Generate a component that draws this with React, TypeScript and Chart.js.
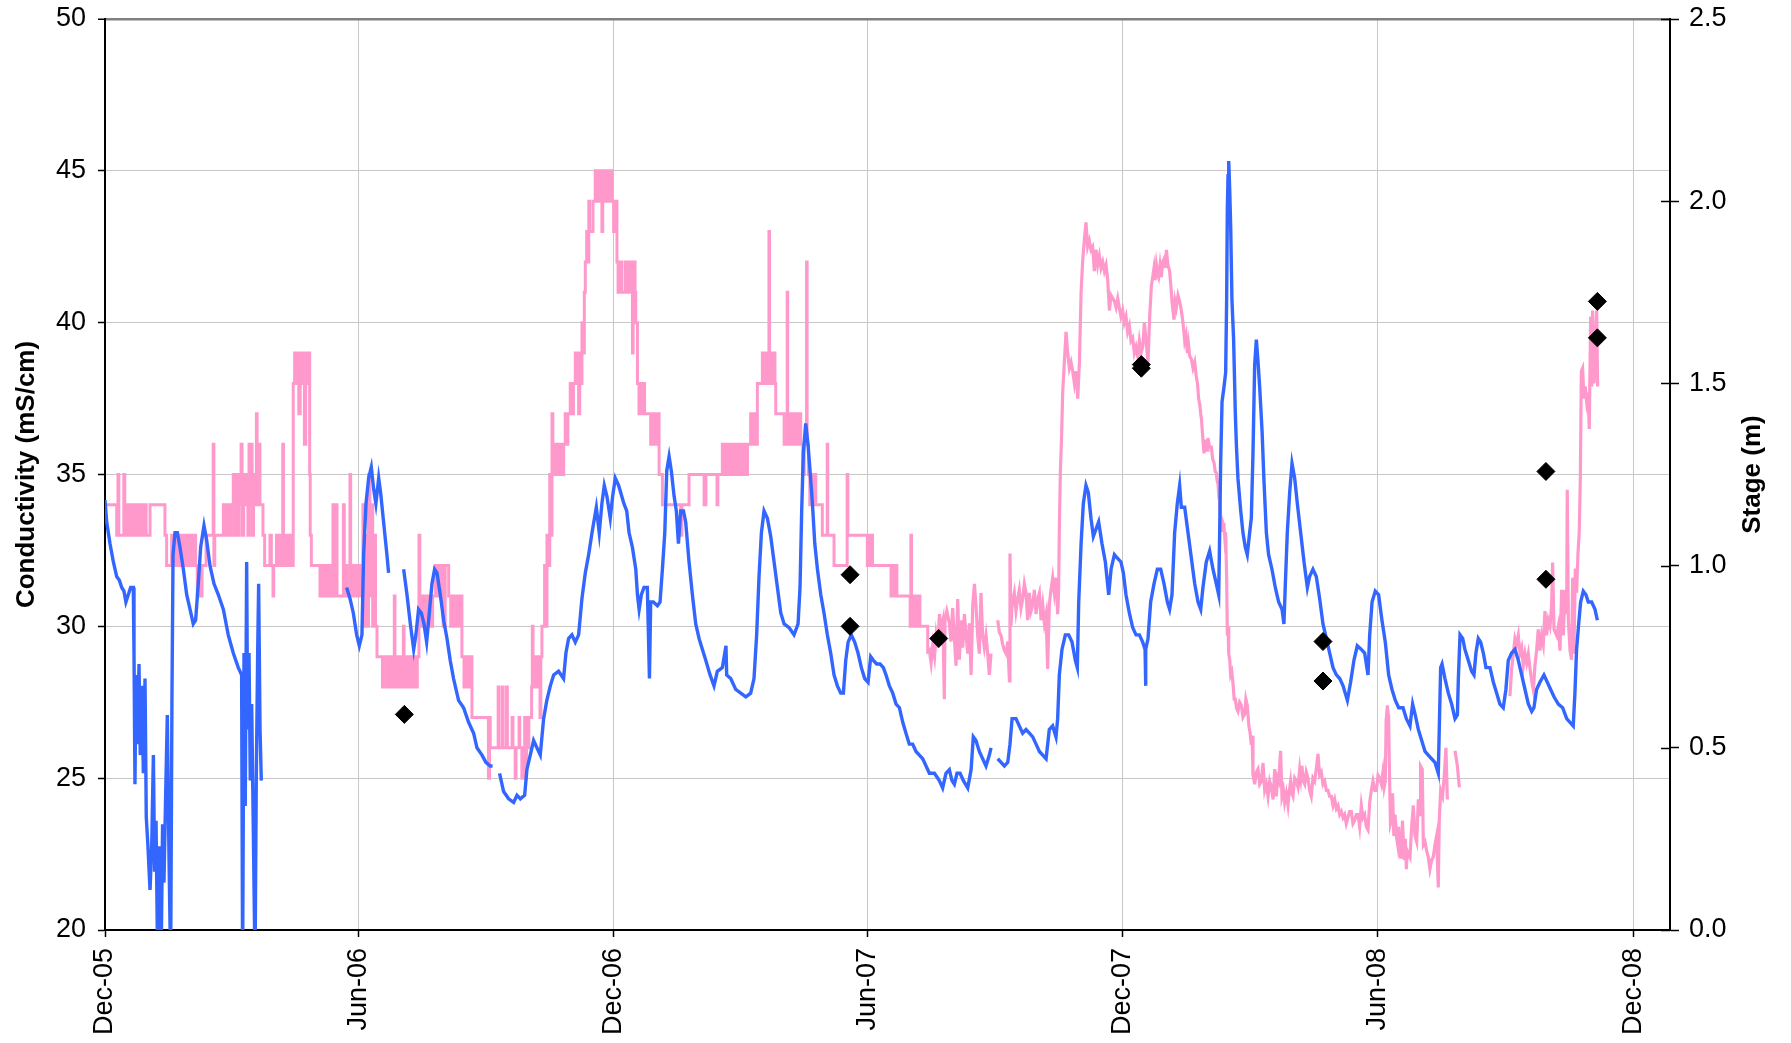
import { useEffect, useRef } from 'react';
import { Chart, registerables } from 'chart.js';

Chart.register(...registerables);

// x values are days since 1 Dec 2005
const tickDays = [0, 182, 365, 547, 730, 913, 1096];
const tickLabels = ['Dec-05', 'Jun-06', 'Dec-06', 'Jun-07', 'Dec-07', 'Jun-08', 'Dec-08'];

// logger conductivity (mS/cm): stepwise readings until ~day 590, then continuous
const conductivityLogger: [number, number | null][] = [
  [0,34],[8.4,33],[9.3,35],[9.9,33],[13.5,35],[14.2,34],[15,33],[16,34],[17,33],[18,34],[19,33],[20,34],[21,33],[22,34],[23,33],[24,34],[25,33],[26,34],[27,33],[28,34],[29.5,33],[32.3,34],[43,33],[44.2,32],[47.8,33],[48.8,32],[50,33],[51,32],[52,33],[53,32],[54,33],[55,32],[56,33],[57,32],[58,33],[59,32],[60,33],[61,32],[62,33],[63,32],[64,33],[65,32],[66.2,31],[66.8,32],[69,31],[69.6,32],[72.5,33],[77.6,36],[78.1,32],[78.7,33],
  [84.9,34],[85.8,33],[86.8,34],[87.8,33],[88.8,34],[89.8,33],[90.8,34],[92,35],[93,33],[94,35],[95,33],[96,35],[97,34],[97.6,36],[98.3,33],[99.5,35],[100.5,34],[101.5,35],[102.5,33],[103.3,36],[104,34],[104.8,36],[105.5,33],[106.5,35],[107.5,34],[108.6,37],[109.1,34],[110.5,36],[111.1,34],[113.3,33],[114.5,32],[118.3,33],[119.3,32],[120.5,31],[121,32],[123,33],[124,32],[125,33],[126,32],[127.5,36],[128,32],[129,33],[130,32],[131,33],[132,32],[133,33],[134,32],
  [135,38],[136,39],[137,38],[138,39],[139,37],[140,39],[141,38],[142,39],[143,36],[144,39],[145,38],[146,39],[146.8,35],[147.2,33],[148,32],[154.2,31],[155.2,32],[156.2,31],[157.2,32],[158.2,31],[159.2,32],[160.2,31],[161.2,32],[162.2,31],[163.5,34],[164.5,31],[165.6,34],[166.4,31],[171,34],[171.6,31],[172.5,32],[173.5,31],[175.7,35],[176.2,31],[177,32],[178,31],[179,32],[180,31],[181,32],[182,31],[183,32],
  [184.3,31],[185,34],[186,30],[187,33],[188,30],[189,35],[190,31],[191,34],[192,30],[193,33],[194,30],[195.1,29],[199,28],[199.8,29],[202,28],[203,29],[204.6,28],[205.5,29],[206.5,28],[207.5,31],[208,28],[209,29],[210,28],[211,29],[212,28],[213,29],[214,30],[214.5,28],[216,29],[217,28],[218,29],[219,28],[220,29],[221,28],[222,29],[223,28],[224,29],[225.2,33],[225.8,30],
  [226.5,31],[228,30],[229,31],[230,30],[231,31],[232,30],[233,31],[234,30],[235,31],[236.9,32],[238,31],[239,32],[240,31],[241,32],[242.5,30],[244,32],[246.5,31],[248,30],[249,31],[250,30],[251,31],[252,30],[253,31],[254,30],[255,31],[256,29],[257.5,28],[258.5,29],[259.5,28],[260.5,29],[261.5,28],[262.5,29],[263.2,27],[275,25],[275.8,27],[276.3,26],
  [282,28],[282.6,26],[285,28],[285.6,26],[288,28],[288.6,26],[292,27],[292.6,26],[294.2,25],[294.8,26],[297,27],[297.5,26],[299,25],[299.6,26],[301,27],[301.6,25],[302.3,27],[303,26],[304,27],[306,28],[306.5,30],[307,28],[308,29],[309,28],[310,29],[311,28],[312,27],[312.6,29],[313.4,30],[315.3,32],[316,30],[317,33],[318,32],[319,35],[320,33],
  [320.6,37],[321.2,36],[322,35],[323,36],[324,35],[325,36],[326,35],[327,36],[328,35],[329,36],[330.1,37],[331,36],[332,37],[333.7,38],[335,37],[336,38],[337.3,39],[338,38],[339,39],[339.7,37],[340.5,39],[341.5,38],[342.1,40],[343,39],[343.8,41],[344.5,42],[345.5,43],[346.3,42],[347,44],[347.6,43],[349,43],[350,44],[351.6,45],[352.5,44],[353.5,45],[354.5,44],[355.5,45],[356.4,43],[357,45],[358,44],[359,45],[360,44],[361,45],[362,44],[363,45],[363.6,44],[364.8,43],[365.5,44],[367.2,42],[368,41],[369,42],[370.5,41],
  [372.3,41],[373,42],[374,41],[375,42],[376,41],[377,42],[378.3,39],[378.8,41],[379.5,42],[380.2,41],[380.7,40],[381.9,38],[383,37],[384,38],[385,37],[386,38],[387,37],[391.4,36],[392.3,37],[393.3,36],[394.3,37],[395.3,36],[396.3,37],[397.4,35],[399.8,34],[412.9,33],[413.8,34],[418.9,35],[429.7,34],[431,35],[439,34],[439.6,35],
  [442.8,36],[444,35],[445,36],[446,35],[447,36],[448,35],[449,36],[450,35],[451,36],[452,35],[453,36],[454,35],[455,36],[456,35],[457,36],[458,35],[459,36],[460,35],[460.8,36],[463.1,37],[464,36],[465,37],[466,36],[467.9,38],[471.5,39],[472.5,38],[473.5,39],[474.5,38],[475.5,39],[476.2,43],[476.6,38],[477.5,39],[478.5,38],[479.5,39],[480.5,38],[481.1,37],[487.1,36],[489.3,41],[489.7,36],[491.8,37],[493,36],[494,37],[495,36],[496,37],[497,36],[498,37],[499,36],[500.5,35],[501.5,36],[503.2,42],[503.6,36],[504.5,35],
  [505.5,34],[506.5,35],[507.5,34],[508.5,35],[509.8,34],[514.5,33],[518,36],[518.4,33],[522.9,32],[532.3,35],[532.8,33],[546.8,32],[547.5,33],[548.5,32],[549.5,33],[550.5,32],[563.8,31],[565,32],[566,31],[567,32],[568,31],[577.5,30],[578,33],[578.5,30],[580.5,31],[581.3,30],[582.1,31],[582.9,30],[583.7,31],[584.5,30],
  [590.1,29.1],[591.3,29.2],[592.5,28.8],[593.7,29.4],[595,29.0],[596.1,29.7],[597.3,29.3],[598.5,30.4],[599.6,29.9],[601.0,30.2],[602.0,27.6],[602.5,30.2],[603.8,30.5],[605.6,30.1],[606.8,29.5],[608.0,30.6],[609.2,29.6],[610.4,28.7],[611.6,30.9],[612.8,28.9],[614.0,30.2],[615.2,29.3],[616.4,30.4],[617.6,29.7],[618.8,29.1],[620.0,30.1],[621.2,28.4],[622.4,30.7],[623.6,31.4],[624.7,30.7],[625.9,29.7],[627.1,29.1],[628.3,31.1],[629.5,29.7],[630.7,29.3],[631.9,29.7],[633.1,29.1],[634.3,28.4],[635.5,29.1],[638,null],
  [640.3,30.2],[641.5,29.8],[642.7,29.7],[643.9,29.4],[645.1,29.2],[646.3,29.1],[647.5,29.5],[648.7,28.2],[649.1,32.4],[649.8,30.0],[650.6,30.7],[652.2,31.1],[653.4,30.5],[654.6,30.9],[655.8,31.2],[657,30.6],[658.2,30.9],[659.4,31.4],[660.6,31.1],[661.8,30.2],[663.0,31.1],[664.2,30.5],[665.4,30.7],[666.6,31.2],[667.8,30.4],[669,30.9],[670.2,31.1],[671.4,30.2],[672.6,30.7],[673.8,30.1],[675.0,30.4],[676.1,28.6],[677.3,30.7],[678.5,31.2],[679.7,31.6],[680.9,31.1],[682.1,31.6],[683.3,30.4],[684.0,31.2],
  [684.5,33.2],[685.2,35.0],[686.2,36.4],[686.9,37.7],[688.1,38.7],[689.3,39.7],[690.5,39.0],[691.7,38.5],[692.9,38.7],[694.1,38.4],[695.3,38.0],[696.5,38.4],[697.7,37.5],[698.9,38.7],[700.1,41.0],[701.2,42.0],[702.4,42.7],[703.6,43.3],[704.8,42.5],[706.0,42.7],[707.2,42.4],[708.4,42.5],[709.6,41.7],[710.8,42.4],[712,41.9],[713.2,42.2],[714.4,41.8],[715.6,42.0],[716.8,41.7],[718.0,41.9],[719.2,41.4],[720.4,40.4],[721.6,40.9],[722.8,40.8],[724.0,40.7],[725.2,40.5],[726.4,40.8],[727.5,40.5],[728.7,40.2],[729.9,40.4],[731.1,40.0],[732.3,40.2],[733.5,39.7],[734.7,39.9],[735.9,39.4],[737.1,39.5],[738.3,39.0],[739.5,39.2],[740.7,38.9],[741.9,39.4],[743.1,39.0],[744.3,39.2],[745.5,40.0],[746.7,39.4],[748.1,38.7],
  [749.3,40.2],[750.5,41.2],[751.5,41.5],[752.4,41.8],[753.2,41.4],[754.1,41.9],[755.0,41.6],[755.7,41.5],[756.7,41.9],[757.7,41.5],[758.6,42.0],[759.6,42.1],[760.5,41.8],[761.3,42.4],[762.4,41.9],[763.6,41.7],[764.5,41.2],[765.3,40.7],[766.0,40.4],[766.7,40.1],[767.5,40.7],[768.4,40.5],[769.6,40.9],[770.8,40.7],[772.0,40.4],[773.2,40.0],[774.4,39.4],[775.4,39.6],[776.3,39.0],[777.1,39.3],[778.0,38.9],[779.2,38.8],[780.4,38.5],[781.6,38.7],[782.8,38.2],[783.6,38.0],[784.4,37.5],[785.2,37.3],[785.9,37.0],[786.5,36.8],[787.1,36.4],[787.7,36.0],[788.3,35.7],[789.1,36.1],[789.9,36.1],[790.5,35.8],[791.1,36.2],[792.3,35.9],[793.5,35.9],[794.5,35.5],[795.4,35.4],[796.3,35.1],[797.1,35.05],[797.7,34.8],[798.3,34.7],[798.9,34.3],[799.5,34.1],[800.3,33.6],[801.2,33.1],[801.9,33.4],[802.6,33.3],[803.2,32.9],[803.8,33.1],
  [804.5,31.6],[805.0,29.7],[805.5,30.0],[806.0,29.1],[806.7,28.9],[807.4,28.4],[808.2,28.5],[809.1,28.1],[809.9,27.6],[810.7,27.6],[811.6,27.3],[812.6,27.2],[813.8,27.5],[815.0,27.4],[816.2,27.0],[817.4,27.1],[818.3,27.6],[819.3,27.4],[820.5,26.7],[821.3,26.5],[822.2,26.1],[822.8,26.4],[823.4,25.1],[824.2,24.9],[824.6,24.8],[825.8,25.2],[827.0,25.3],[828.2,24.8],[829.4,24.9],[830.6,25.5],[831.8,24.6],[833.0,24.8],[834.2,24.4],[835.4,24.9],[836.6,24.7],[837.8,24.3],[839.0,25.3],[840.1,24.4],[841.0,25.0],[841.8,24.9],[843.2,25.9],[844.2,24.4],[845.2,24.6],[846.1,24.2],[847.3,24.5],[848.5,24.1],[849.5,24.6],[850.4,24.9],[851.3,24.5],[852.1,24.4],[853.3,25.0],[854.5,24.9],[855.7,24.7],[856.9,25.3],[857.7,25.0],[858.5,25.4],[859.5,24.9],[860.5,24.8],[861.6,25.2],[862.8,25.0],[864.0,24.6],[865.2,24.4],[866.4,25.0],[867.6,24.9],[868.8,25.3],[870.0,25.8],[871.2,25.1],[872.4,25.2],[873.6,24.8],[874.8,24.9],
  [876.0,24.6],[877.2,24.6],[878.4,24.4],[879.6,24.4],[880.8,24.1],[882.0,24.3],[883.2,24.0],[884.4,24.1],[885.6,23.8],[886.8,23.9],[888.0,23.7],[889.1,23.8],[890.3,23.5],[891.5,23.7],[892.7,23.9],[893.9,23.9],[895.1,23.5],[896.3,23.6],[897.5,23.8],[898.7,23.8],[899.9,23.4],[901.1,24.1],[902.3,23.7],[903.5,23.8],[904.7,23.4],[905.9,23.3],[907.1,24.2],[908.3,24.6],[909.5,24.9],[910.7,24.6],[911.9,24.6],[913.1,25.1],[914.3,25.0],[915.5,24.8],[916.6,25.2],[917.5,24.7],[918.3,24.9],[918.9,26.9],[919.8,27.4],[920.3,27.1],[920.7,26.9],[921.4,24.9],[922.0,23.5],[922.6,23.6],[923.5,24.5],[924.4,23.1],[925.3,23.8],[926.2,23.1],[927.2,22.8],[927.9,23.4],[928.6,22.5],[929.3,22.4],[929.9,22.4],[930.6,23.6],[931.0,23.2],[932.0,22.3],[932.7,23.0],[933.4,22.0],[934.1,22.6],[935.0,22.5],[936.0,22.4],
  [937.2,23.4],[938.4,24.1],[939.6,23.1],[940.8,22.9],[942.0,24.3],[943.2,23.8],[943.6,25.4],[944.8,25.3],[945.6,22.8],[946.8,22.9],[948.0,22.6],[949.1,22.4],[950.3,22.0],[951.5,22.3],[952.7,22.4],[953.9,22.8],[955.1,23.1],[956.3,21.4],[957.0,23.6],[958.0,24.6],[959.4,24.4],[960.6,25.1],[961.8,26.0],[962.8,24.3],[965,null],[968.3,25.9],[970.0,25.4],[971.4,24.7],[990,null],
  [1007.7,27.7],[1008.9,28.6],[1010.1,29.1],[1011.3,29.6],[1012.5,29.4],[1013.7,29.7],[1014.9,29.1],[1016.1,29.3],[1017.3,28.7],[1018.5,29.1],[1019.7,28.8],[1020.9,29.1],[1022.1,28.6],[1023.3,28.2],[1024.5,27.9],[1025.6,28.7],[1026.8,29.2],[1028.0,29.9],[1029.2,29.2],[1030.4,29.7],[1031.6,29.4],[1032.8,30.5],[1034.0,29.7],[1035.2,30.2],[1036.4,30.0],[1037.6,30.7],[1038.3,32.1],[1039.3,29.9],[1041.2,29.7],[1042.4,30.0],[1043.6,29.2],[1044.8,31.2],[1046.0,29.7],[1047.2,31.2],[1048.4,30.4],[1048.8,34.5],[1049.6,30.2],[1050.8,29.2],[1051.9,28.9],[1052.7,31.6],[1053.6,29.1],[1054.6,31.9],[1055.5,31.1],[1056.5,32.4],[1057.4,33.1],[1058.2,34.9],[1058.9,38.4],[1059.8,38.5],[1060.8,37.5],[1061.7,37.9],[1062.7,37.4],[1063.7,37.7],[1064.6,36.5],[1065.6,40.2],[1066.3,37.9],[1067.0,40.4],[1068.0,38.0],[1068.9,39.0],[1069.9,40.4],[1070.6,37.9],
];
const STEPPED_UNTIL_DAY = 590.1;

// logger stage (m)
const stageLogger: [number, number | null][] = [
  [0,1.18],[1.2,1.12],[3.6,1.06],[6.0,1.01],[8.4,0.97],[10.3,0.96],[12.0,0.94],[13.6,0.93],[15.0,0.90],[16.7,0.92],[18.4,0.94],[20.3,0.94],
  [20.8,0.76],[21.5,0.40],[22.2,0.70],[23.2,0.51],[24.4,0.73],[25.3,0.48],[26.5,0.67],[27.5,0.43],[28.7,0.69],[29.6,0.31],[30.8,0.23],[32.3,0.11],[33.5,0.23],[34.7,0.48],[35.6,0.16],[36.6,0.30],[37.8,-0.1],[39.0,0.23],[40.2,-0.1],[41.3,0.29],[42.3,0.13],[43.5,0.37],[44.7,0.59],[45.9,0.20],[47.1,-0.1],[48.0,0.62],[48.8,1.03],
  [50.2,1.09],[51.9,1.09],[53.8,1.05],[56.2,0.99],[58.6,0.92],[61.0,0.88],[63.3,0.84],[65.0,0.85],[66.9,0.95],[68.6,1.05],[71.0,1.11],[72.9,1.07],[75.3,1.00],[78.2,0.95],[81.3,0.92],[84.9,0.88],[88.4,0.81],[92.0,0.76],[95.6,0.72],[98.0,0.70],
  [98.7,-0.1],[99.7,0.76],[100.6,0.34],[101.6,1.01],[102.3,0.55],[103.3,0.76],[104.2,0.41],[105.2,0.62],[106.4,0.27],[107.6,-0.1],[108.5,0.41],[109.5,0.76],[110.2,0.95],[111.2,0.55],[112.1,0.41],[140,null],
  [173.3,0.94],[175.7,0.91],[178.1,0.87],[180.5,0.81],[182.4,0.78],[184.3,0.81],[185.5,1.03],[187.2,1.17],[189.1,1.24],[191.0,1.27],[192.7,1.21],[194.3,1.17],[196.3,1.24],[197.7,1.20],[199.8,1.12],[202.2,1.03],[203.4,0.98],[208,null],
  [214.2,0.99],[216.6,0.92],[219.0,0.84],[221.4,0.77],[223.0,0.81],[224.9,0.88],[226.9,0.87],[228.8,0.84],[230.7,0.79],[232.6,0.87],[234.5,0.95],[236.4,0.99],[238.1,0.98],[240.5,0.92],[242.9,0.85],[245.3,0.80],[247.6,0.74],[250.0,0.69],[253.6,0.63],[257.2,0.61],[260.8,0.57],[264.4,0.54],[266.8,0.50],[270.4,0.48],[273.2,0.46],[276.3,0.45],[278.0,0.45],[280,null],
  [283.0,0.43],[285.9,0.38],[289.5,0.36],[293.1,0.35],[295.5,0.37],[297.9,0.36],[301.0,0.37],[302.6,0.44],[305.0,0.48],[307.4,0.52],[309.8,0.50],[312.2,0.48],[314.6,0.58],[316.9,0.63],[319.4,0.67],[321.8,0.70],[325.3,0.71],[328.9,0.69],[330.6,0.76],[332.5,0.80],[334.9,0.81],[337.3,0.79],[339.7,0.81],[342.1,0.91],[344.5,0.98],[346.9,1.03],[349.3,1.09],[352.4,1.16],[354.5,1.09],[356.4,1.17],[358.1,1.22],[360.0,1.19],[362.4,1.13],[364.1,1.19],[366.0,1.24],[368.4,1.22],[372.2,1.17],
  [374.2,1.15],[375.9,1.09],[378.3,1.05],[380.7,0.99],[381.9,0.92],[383.1,0.88],[384.7,0.92],[386.6,0.94],[389.0,0.94],[390.5,0.69],[391.4,0.90],[393.3,0.90],[396.2,0.89],[398.1,0.90],[399.8,0.99],[401.5,1.09],[402.9,1.26],[404.6,1.30],[406.2,1.26],[408.2,1.19],[409.8,1.15],[411.3,1.06],[412.9,1.15],[414.9,1.15],[416.5,1.12],[418.9,1.01],[421.3,0.92],[423.7,0.84],[426.1,0.80],[428.5,0.77],[430.9,0.74],[434.0,0.70],[436.8,0.67],[439.2,0.71],[442.8,0.72],[445.4,0.78],[445.9,0.70],[448.8,0.69],[452.4,0.66],[456.0,0.65],[459.6,0.64],[463.1,0.65],[465.5,0.69],[467.4,0.81],[469.1,0.97],[470.8,1.09],[472.7,1.15],[475.1,1.13],[477.5,1.08],[479.9,1.01],[482.3,0.94],[484.7,0.87],[487.1,0.84],[490.6,0.83],[494.2,0.81],[497.1,0.84],[498.5,0.94],
  [499.7,1.15],[500.9,1.31],[502.6,1.39],[504.3,1.33],[505.7,1.26],[507.4,1.17],[509.1,1.06],[511.0,0.99],[513.4,0.92],[515.7,0.87],[518.1,0.81],[520.5,0.76],[522.9,0.70],[525.3,0.67],[527.7,0.65],[529.6,0.65],[531.3,0.74],[533.0,0.79],[535.3,0.81],[537.7,0.79],[540.1,0.76],[542.5,0.72],[544.9,0.69],[547.3,0.68],[549.2,0.75],[551.1,0.74],[553.5,0.73],[555.9,0.73],[558.3,0.72],[560.2,0.70],
  [562.6,0.67],[565.0,0.65],[567.4,0.62],[569.8,0.61],[572.2,0.57],[574.5,0.54],[576.9,0.51],[579.3,0.51],[581.7,0.49],[584.1,0.48],[586.5,0.47],[588.9,0.45],[591.3,0.43],[594.9,0.43],[598.4,0.41],[600.8,0.39],[603.2,0.43],[605.6,0.44],[607.5,0.41],[609.2,0.40],[611.1,0.43],[613.3,0.43],[615.7,0.41],[618.8,0.39],[621.2,0.44],[622.8,0.53],[624.7,0.52],[627.1,0.49],[629.5,0.47],[631.9,0.45],[634.3,0.48],[635.5,0.50],[638,null],
  [640.3,0.47],[642.7,0.46],[645.1,0.45],[647.5,0.46],[649.1,0.51],[650.6,0.58],[653.4,0.58],[655.8,0.56],[658.2,0.54],[660.6,0.55],[663.0,0.54],[665.4,0.53],[667.8,0.51],[670.2,0.49],[672.6,0.48],[675.0,0.47],[677.3,0.55],[679.7,0.56],[682.1,0.53],[683.3,0.58],[684.5,0.70],[686.4,0.77],[688.8,0.81],[691.2,0.81],[693.6,0.79],[696.0,0.74],[697.4,0.72],[698.4,0.90],[700.1,1.06],[701.7,1.17],[703.6,1.22],[705.3,1.20],[707.2,1.13],[708.9,1.08],[710.8,1.10],[712.7,1.12],[715.1,1.06],[717.5,1.01],[719.9,0.92],[721.6,0.99],[724.0,1.03],[726.3,1.02],[728.7,1.01],[730.4,0.98],[732.3,0.92],[734.7,0.87],[737.1,0.83],[739.5,0.81],[741.9,0.81],[744.3,0.79],[746.0,0.77],[746.3,0.67],[746.6,0.77],[748.1,0.80],
  [750.0,0.90],[752.4,0.95],[754.8,0.99],[757.2,0.99],[759.6,0.95],[762.0,0.90],[763.6,0.88],[765.3,0.92],[767.2,1.09],[769.1,1.17],[770.8,1.22],[772.0,1.16],[774.4,1.16],[776.8,1.09],[779.2,1.02],[781.6,0.95],[784.0,0.90],[785.9,0.88],[787.5,0.94],[789.9,1.01],[792.3,1.04],[794.7,0.99],[797.1,0.95],[798.8,0.92],[799.5,1.09],[800.2,1.28],[801.2,1.45],[802.6,1.49],[803.8,1.53],[804.5,1.73],[805.0,1.98],[805.5,2.07],[806.0,2.11],[806.7,2.03],[807.4,1.93],[808.3,1.73],[809.5,1.62],[810.7,1.42],[811.5,1.33],[812.6,1.24],[814.6,1.15],[816.2,1.09],[817.9,1.05],[819.3,1.03],[821.0,1.09],[822.2,1.13],[823.4,1.31],[824.6,1.55],[825.8,1.62],[827.0,1.56],[828.2,1.49],[829.9,1.37],[831.3,1.23],[833.0,1.09],[834.6,1.03],[837.0,0.99],[839.4,0.94],[841.8,0.90],[844.2,0.88],[845.6,0.84],
  [846.6,0.95],[848.0,1.09],[849.7,1.20],[851.4,1.28],[853.3,1.24],[855.2,1.17],[857.6,1.09],[860.0,1.01],[862.4,0.94],[864.0,0.97],[866.4,0.99],[868.8,0.97],[871.2,0.91],[873.6,0.84],[876.0,0.80],[878.4,0.76],[880.8,0.72],[883.2,0.70],[885.6,0.69],[888.0,0.67],[891.1,0.63],[893.4,0.68],[895.8,0.74],[898.2,0.78],[901.1,0.77],[903.5,0.76],[905.9,0.70],[907.1,0.81],[908.8,0.90],[911.1,0.93],[913.5,0.92],[915.9,0.85],[918.3,0.79],[920.7,0.70],[923.1,0.66],[925.5,0.63],[927.9,0.61],[931.0,0.61],[933.4,0.58],[936.0,0.56],
  [937.9,0.62],[939.8,0.59],[942.0,0.55],[944.4,0.52],[946.8,0.49],[949.1,0.48],[951.5,0.47],[953.9,0.46],[956.3,0.43],[957.0,0.55],[958.0,0.72],[959.0,0.73],[961.1,0.69],[963.5,0.65],[965.9,0.62],[968.3,0.58],[970.0,0.59],[970.7,0.69],[971.9,0.81],[973.8,0.80],[975.4,0.77],[977.8,0.74],[980.2,0.71],[981.9,0.70],[983.3,0.76],[985.0,0.80],[986.7,0.79],[988.6,0.76],[990.5,0.72],[993.4,0.72],[995.8,0.68],[998.2,0.65],[1000.5,0.62],[1002.9,0.61],[1004.8,0.66],[1006.5,0.74],[1008.9,0.76],[1011.3,0.77],[1013.7,0.74],[1016.1,0.70],[1018.5,0.66],[1020.9,0.62],[1023.3,0.60],[1024.9,0.61],[1026.8,0.66],[1029.2,0.68],[1032.1,0.70],[1034.5,0.68],[1036.9,0.66],[1039.3,0.64],[1042.4,0.62],[1045.5,0.61],[1048.4,0.58],[1050.8,0.57],[1053.1,0.56],[1054.3,0.65],[1055.5,0.77],[1057.0,0.84],[1058.4,0.90],[1060.3,0.93],[1062.2,0.92],[1063.9,0.90],[1066.3,0.90],[1068.7,0.88],[1070.4,0.85],
];

// manual conductivity samples (mS/cm)
const conductivitySamples: [number, number][] = [
  [214.7,27.1],[534.4,31.7],[534.4,30.0],[598.0,29.6],[743.3,38.62],[743.3,38.5],[873.6,29.5],[873.6,28.2],[1033.5,35.1],[1033.5,31.55],[1070.4,40.7],[1070.4,39.5],
];

const FONT = "'Liberation Sans', Arial, sans-serif";

export default function App() {
  const ref = useRef<HTMLCanvasElement>(null);

  useEffect(() => {
    document.body.style.margin = '0';
    const canvas = ref.current;
    if (!canvas) return;
    const toXY = (p: [number, number | null]) => ({ x: p[0], y: p[1] });
    const condStepped = conductivityLogger.filter((p) => p[0] <= STEPPED_UNTIL_DAY).map(toXY);
    const condLate = conductivityLogger.filter((p) => p[0] >= STEPPED_UNTIL_DAY).map(toXY);

    const extras = {
      id: 'extras',
      afterDraw(chart: any) {
        const s = chart.scales.y2;
        const ctx = chart.ctx;
        ctx.save();
        ctx.strokeStyle = '#000';
        ctx.lineWidth = 1.5;
        s.ticks.forEach((t: any) => {
          const y = Math.round(s.getPixelForValue(t.value)) + 0.5;
          ctx.beginPath();
          ctx.moveTo(s.left - 9, y);
          ctx.lineTo(s.left, y);
          ctx.stroke();
        });
        const ca = chart.chartArea;
        ctx.translate(1753, (ca.top + ca.bottom) / 2);
        ctx.rotate(-Math.PI / 2);
        ctx.font = `bold 26px ${FONT}`;
        ctx.fillStyle = '#000';
        ctx.textAlign = 'center';
        ctx.textBaseline = 'middle';
        ctx.fillText('Stage (m)', 0, 0);
        ctx.restore();
      },
    };

    const fitY = (w: number) => (s: any) => {
      s.width = w;
      s.paddingTop = 0;
      s.paddingBottom = 0;
    };

    const chart = new Chart(canvas, {
      type: 'line',
      data: {
        datasets: [
          {
            label: 'Conductivity',
            data: condStepped,
            yAxisID: 'y',
            borderColor: '#FF99CC',
            backgroundColor: '#FF99CC',
            borderWidth: 3,
            pointRadius: 0,
            stepped: 'before',
            spanGaps: false,
            order: 3,
          },
          {
            label: 'Conductivity',
            data: condLate,
            yAxisID: 'y',
            borderColor: '#FF99CC',
            backgroundColor: '#FF99CC',
            borderWidth: 3.2,
            pointRadius: 0,
            spanGaps: false,
            order: 3,
          },
          {
            label: 'Stage',
            data: stageLogger.map(toXY),
            yAxisID: 'y2',
            borderColor: '#3366FF',
            backgroundColor: '#3366FF',
            borderWidth: 3.4,
            pointRadius: 0,
            spanGaps: false,
            order: 2,
          },
          {
            label: 'Samples',
            data: conductivitySamples.map(toXY),
            yAxisID: 'y',
            showLine: false,
            pointStyle: 'rectRot',
            pointRadius: 9,
            pointBackgroundColor: '#000',
            pointBorderColor: '#000',
            pointBorderWidth: 1,
            order: 1,
          },
        ] as any,
      },
      options: {
        responsive: false,
        animation: false,
        devicePixelRatio: 1,
        layout: { padding: { top: 19, left: 0, right: 0, bottom: 0 } },
        plugins: { legend: { display: false }, tooltip: { enabled: false } },
        scales: {
          x: {
            type: 'linear',
            min: 0,
            max: 1122.5,
            afterBuildTicks: (s: any) => {
              s.ticks = tickDays.map((v) => ({ value: v }));
            },
            afterFit: (s: any) => {
              s.height = 113;
              s.paddingLeft = 0;
              s.paddingRight = 0;
            },
            ticks: {
              autoSkip: false,
              minRotation: 90,
              maxRotation: 90,
              padding: 11,
              color: '#000',
              font: { family: FONT, size: 27 },
              callback: (_v: any, i: number) => tickLabels[i] ?? '',
            },
            grid: { color: '#c8c8c8', lineWidth: 1, tickLength: 7, tickColor: '#000', tickWidth: 1.5 },
            border: { color: '#000', width: 2 },
          },
          y: {
            position: 'left',
            min: 20,
            max: 50,
            afterFit: fitY(105),
            ticks: { stepSize: 5, padding: 12, color: '#000', font: { family: FONT, size: 27 } },
            grid: {
              color: (c: any) => (c.tick && c.tick.value === 50 ? '#808080' : '#c8c8c8'),
              lineWidth: (c: any) => (c.tick && c.tick.value === 50 ? 2.5 : 1),
              tickLength: 7,
              tickColor: '#000',
              tickWidth: 1.5,
            },
            border: { color: '#000', width: 2 },
            title: {
              display: true,
              text: 'Conductivity (mS/cm)',
              color: '#000',
              font: { family: FONT, size: 26, weight: 'bold' },
              padding: { top: 11, bottom: 0 },
            },
          },
          y2: {
            position: 'right',
            min: 0,
            max: 2.5,
            afterFit: fitY(121),
            ticks: {
              stepSize: 0.5,
              padding: 10,
              color: '#000',
              font: { family: FONT, size: 27 },
              callback: (v: any) => Number(v).toFixed(1),
            },
            grid: { drawOnChartArea: false, tickLength: 9, tickColor: '#000', tickWidth: 1.5 },
            border: { color: '#000', width: 2 },
          },
        },
      } as any,
      plugins: [extras],
    });

    return () => chart.destroy();
  }, []);

  return (
    <div style={{ width: 1791, height: 1043 }}>
      <canvas ref={ref} width={1791} height={1043} style={{ display: 'block' }} />
    </div>
  );
}
